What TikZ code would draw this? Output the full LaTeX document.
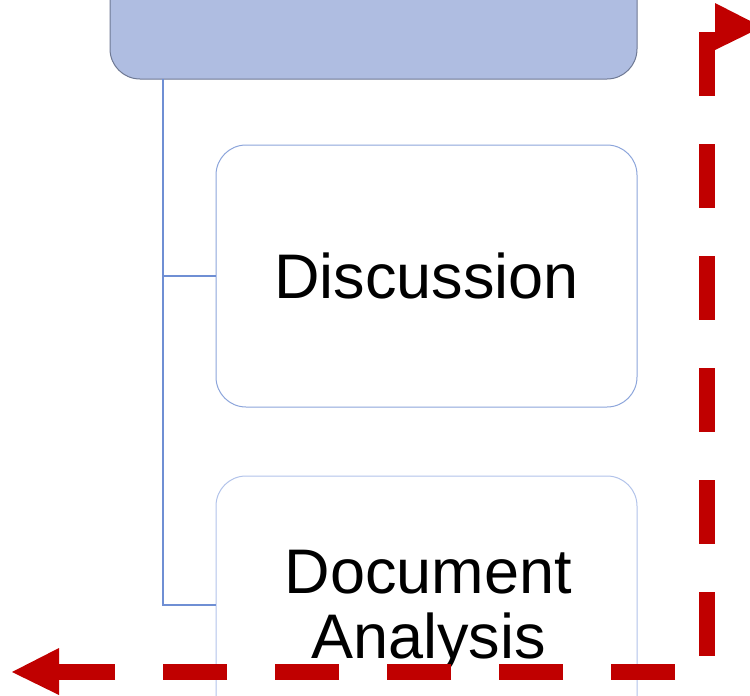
\documentclass[tikz,border=0pt]{standalone}
\usepackage{fontspec}
\setmainfont{Liberation Sans}
\definecolor{topfill}{HTML}{AFBDE1}
\definecolor{topline}{HTML}{6E7893}
\definecolor{conn}{HTML}{6F8FD4}
\definecolor{discline}{HTML}{8CA5DB}
\definecolor{docline}{HTML}{B2C3EA}
\definecolor{arrowred}{HTML}{C00000}
\begin{document}
\begin{tikzpicture}[x=1pt,y=-1pt,
  topbox/.style={draw=topline,line width=1pt,fill=topfill,rounded corners=30pt,
    minimum width=527pt,minimum height=119pt,inner sep=0pt},
  itembox/.style={line width=1pt,fill=white,rounded corners=30pt,
    minimum width=421pt,inner sep=0pt,font=\fontsize{63}{65}\selectfont},
  txt/.style={anchor=base,inner sep=0pt,font=\fontsize{63}{65}\selectfont},
  connline/.style={draw=conn,line width=2.5pt},
  redline/.style={draw=arrowred,line width=16pt,dash pattern=on 64pt off 48pt},
  redhead/.style={fill=arrowred}]
\useasboundingbox (0,0) rectangle (750,696);
\clip (0,0) rectangle (750,696);
% top box
\node[topbox] (top) at (373.5,19.5) {};
% items
\node[itembox,draw=discline,minimum height=262pt] (disc) at (426.5,276) {Discussion};
\node[itembox,draw=docline,minimum height=258pt] (doc) at (426.5,605) {};
\node[txt] (doc1) at (428.5,593) {Document};
\node[txt] (doc2) at (428.5,658) {Analysis};
% connectors
\coordinate (trunk) at (163,79);
\draw[connline] (trunk) |- (disc.west);
\draw[connline] (trunk) |- (doc.west);
% red dashed elbow arrow
\coordinate (rtop) at (707,32);
\coordinate (rcorner) at (707,672);
\coordinate (rleft) at (59,672);
\draw[redline] (rtop) -- (rcorner) -- (rleft);
\fill[redhead] (715,3) -- (762,27) -- (715,50) -- cycle;
\fill[redhead] (59,648) -- (12,672) -- (59,695) -- cycle;
\end{tikzpicture}
\end{document}
